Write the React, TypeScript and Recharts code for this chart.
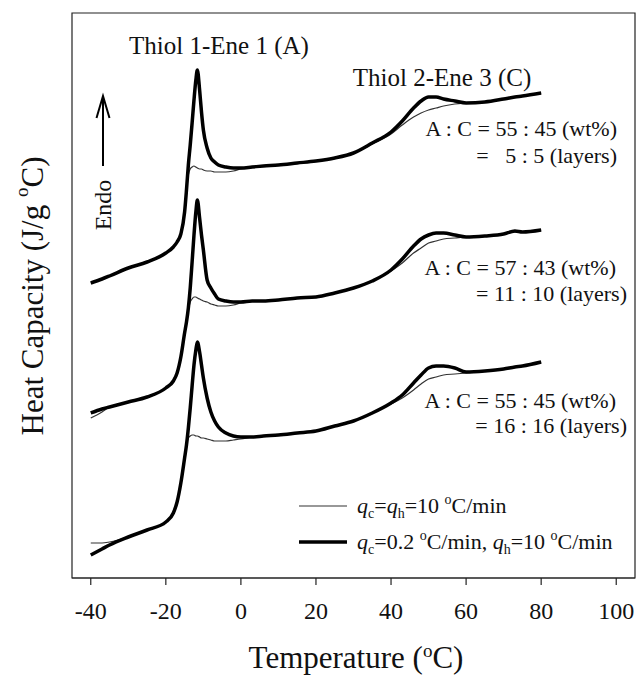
import React from "react";
import { LineChart, Line, XAxis, YAxis, ReferenceArea, Legend } from "recharts";

// temperature grid (°C) shared by all traces
const temps = [
  -40, -37, -35, -30, -25, -20, -18, -17, -16, -15, -14.5, -14, -13.5, -13, -12.5,
  -12, -11.6, -11, -10.5, -10, -9, -8, -7, -6, -4, -2, 0, 3, 6, 10, 15, 20, 25,
  30, 35, 40, 43, 46, 48, 50, 52, 54, 57, 60, 65, 70, 73, 75, 80,
];

// heat capacity traces (arbitrary offset units), slow cooling = thick, 10 °C/min = thin
const layers5Slow = [
  2.95, 2.99, 3.02, 3.1, 3.16, 3.25, 3.31, 3.36, 3.44, 3.66, 3.88, 4.13, 4.33, 4.55, 4.78,
  4.98, 5.08, 4.88, 4.66, 4.48, 4.3, 4.2, 4.16, 4.13, 4.11, 4.1, 4.1, 4.11, 4.12, 4.13, 4.15, 4.17, 4.2,
  4.25, 4.35, 4.46, 4.57, 4.7, 4.77, 4.81, 4.81, 4.79, 4.77, 4.75, 4.76, 4.79, 4.81, 4.82, 4.85,
];
const layers5Fast = [
  2.95, 2.99, 3.02, 3.1, 3.16, 3.25, 3.31, 3.36, 3.44, 3.66, 3.86, 4.03, 4.09, 4.11, 4.12,
  4.11, 4.1, 4.09, 4.09, 4.08, 4.07, 4.07, 4.06, 4.06, 4.06, 4.07, 4.09, 4.11, 4.12, 4.13, 4.15, 4.17, 4.2,
  4.25, 4.34, 4.44, 4.53, 4.61, 4.65, 4.68, 4.7, 4.72, 4.74, 4.75, 4.76, 4.79, 4.81, 4.82, 4.85,
];
const layers11Slow = [
  1.65, 1.69, 1.71, 1.76, 1.81, 1.9, 1.97, 2.05, 2.21, 2.45, 2.56, 2.7, 2.9, 3.16, 3.43,
  3.66, 3.78, 3.6, 3.43, 3.28, 2.98, 2.9, 2.84, 2.79, 2.77, 2.76, 2.76, 2.77, 2.77, 2.78, 2.8, 2.81, 2.85,
  2.9, 2.97, 3.08, 3.19, 3.32, 3.39, 3.43, 3.45, 3.45, 3.43, 3.41, 3.42, 3.44, 3.47, 3.46, 3.48,
];
const layers11Fast = [
  1.6, 1.66, 1.71, 1.76, 1.81, 1.9, 1.97, 2.05, 2.21, 2.45, 2.56, 2.68, 2.76, 2.79, 2.81,
  2.81, 2.8, 2.79, 2.78, 2.77, 2.76, 2.74, 2.73, 2.72, 2.72, 2.73, 2.75, 2.77, 2.77, 2.78, 2.8, 2.81, 2.85,
  2.9, 2.97, 3.07, 3.15, 3.25, 3.3, 3.35, 3.37, 3.39, 3.4, 3.41, 3.42, 3.44, 3.46, 3.46, 3.48,
];
const layers16Slow = [
  0.23, 0.29, 0.33, 0.41, 0.48, 0.56, 0.65, 0.76, 0.95, 1.2, 1.33, 1.5, 1.7, 1.92, 2.13,
  2.28, 2.36, 2.26, 2.13, 2.0, 1.8, 1.66, 1.57, 1.51, 1.45, 1.42, 1.41, 1.41, 1.42, 1.43, 1.45, 1.47, 1.52,
  1.57, 1.65, 1.75, 1.83, 1.95, 2.03, 2.1, 2.12, 2.12, 2.1, 2.06, 2.07, 2.09, 2.11, 2.12, 2.16,
];
const layers16Fast = [
  0.35, 0.35, 0.36, 0.41, 0.48, 0.56, 0.65, 0.76, 0.95, 1.2, 1.33, 1.4, 1.42, 1.43, 1.43,
  1.42, 1.42, 1.41, 1.4, 1.4, 1.39, 1.38, 1.37, 1.37, 1.37, 1.38, 1.39, 1.41, 1.42, 1.43, 1.45, 1.47, 1.52,
  1.57, 1.65, 1.74, 1.8, 1.88, 1.94, 1.99, 2.01, 2.03, 2.04, 2.05, 2.07, 2.09, 2.11, 2.12, 2.16,
];

const xTicks = [-40, -20, 0, 20, 40, 60, 80, 100];

const data = temps.map((t, i) => ({
  t,
  s5: layers5Slow[i],
  f5: layers5Fast[i],
  s11: layers11Slow[i],
  f11: layers11Fast[i],
  s16: layers16Slow[i],
  f16: layers16Fast[i],
}));

const FONT = '"Liberation Serif", "Times New Roman", serif';
const INK = "#111";

function LegendBox() {
  return (
    <svg width={340} height={72} style={{ fontFamily: FONT }}>
      <line x1={0} x2={48} y1={17} y2={17} stroke="#333" strokeWidth={1.2} />
      <line x1={0} x2={48} y1={53} y2={53} stroke="#000" strokeWidth={3.5} />
      <text x={58} y={24} fontSize={22} fill={INK}>
        <tspan fontStyle="italic">q</tspan>
        <tspan fontSize={14} dy={5}>c</tspan>
        <tspan dy={-5}>=</tspan>
        <tspan fontStyle="italic">q</tspan>
        <tspan fontSize={14} dy={5}>h</tspan>
        <tspan dy={-5}>=10 </tspan>
        <tspan fontSize={14} dy={-9}>o</tspan>
        <tspan dy={9}>C/min</tspan>
      </text>
      <text x={58} y={60} fontSize={22} fill={INK}>
        <tspan fontStyle="italic">q</tspan>
        <tspan fontSize={14} dy={5}>c</tspan>
        <tspan dy={-5}>=0.2 </tspan>
        <tspan fontSize={14} dy={-9}>o</tspan>
        <tspan dy={9}>C/min, </tspan>
        <tspan fontStyle="italic">q</tspan>
        <tspan fontSize={14} dy={5}>h</tspan>
        <tspan dy={-5}>=10 </tspan>
        <tspan fontSize={14} dy={-9}>o</tspan>
        <tspan dy={9}>C/min</tspan>
      </text>
    </svg>
  );
}

export default function App() {
  return (
    <div style={{ position: "absolute", left: 0, top: 0, width: 637, height: 677, background: "#fff" }}>
      <LineChart
        width={637}
        height={677}
        data={data}
        margin={{ top: 13, right: 2, bottom: 39, left: 72 }}
      >
        <XAxis
          dataKey="t"
          type="number"
          domain={[-45, 105]}
          ticks={xTicks}
          height={60}
          axisLine={{ stroke: "#222", strokeWidth: 1.2 }}
          tickLine={{ stroke: "#222", strokeWidth: 1.2 }}
          tickSize={7}
          tickMargin={17}
          tick={{ fill: INK, fontSize: 24, fontFamily: FONT }}
        />
        <YAxis hide type="number" domain={[0, 5.65]} />
        <ReferenceArea
          x1={-45}
          x2={105}
          y1={0}
          y2={5.65}
          fill="none"
          stroke="#222"
          strokeWidth={1.2}
        />
        <Line dataKey="f5" type="monotone" stroke="#333" strokeWidth={1.2} dot={false} isAnimationActive={false} />
        <Line dataKey="f11" type="monotone" stroke="#333" strokeWidth={1.2} dot={false} isAnimationActive={false} />
        <Line dataKey="f16" type="monotone" stroke="#333" strokeWidth={1.2} dot={false} isAnimationActive={false} />
        <Line dataKey="s5" type="monotone" stroke="#000" strokeWidth={3.5} dot={false} isAnimationActive={false} />
        <Line dataKey="s11" type="monotone" stroke="#000" strokeWidth={3.5} dot={false} isAnimationActive={false} />
        <Line dataKey="s16" type="monotone" stroke="#000" strokeWidth={3.5} dot={false} isAnimationActive={false} />
        <Legend
          layout="horizontal"
          verticalAlign="middle"
          align="center"
          content={() => <LegendBox />}
          wrapperStyle={{ left: 299, top: 489, width: 340, height: 72 }}
        />
      </LineChart>

      <svg
        width={637}
        height={677}
        style={{ position: "absolute", left: 0, top: 0, pointerEvents: "none", fontFamily: FONT }}
      >
        <g fill={INK}>
          <text x={219} y={45} fontSize={25} textAnchor="middle" dominantBaseline="central">
            Thiol 1-Ene 1 (A)
          </text>
          <text x={442} y={77} fontSize={25} textAnchor="middle" dominantBaseline="central">
            Thiol 2-Ene 3 (C)
          </text>
          <text x={617} y={128} fontSize={22} textAnchor="end" dominantBaseline="central" style={{ whiteSpace: "pre" }}>
            A : C = 55 : 45 (wt%)
          </text>
          <text x={617} y={155} fontSize={22} textAnchor="end" dominantBaseline="central" style={{ whiteSpace: "pre" }}>
            {"=   5 : 5 (layers)"}
          </text>
          <text x={616} y={267} fontSize={22} textAnchor="end" dominantBaseline="central" style={{ whiteSpace: "pre" }}>
            A : C = 57 : 43 (wt%)
          </text>
          <text x={627} y={293} fontSize={22} textAnchor="end" dominantBaseline="central" style={{ whiteSpace: "pre" }}>
            = 11 : 10 (layers)
          </text>
          <text x={616} y={400} fontSize={22} textAnchor="end" dominantBaseline="central" style={{ whiteSpace: "pre" }}>
            A : C = 55 : 45 (wt%)
          </text>
          <text x={627} y={425} fontSize={22} textAnchor="end" dominantBaseline="central" style={{ whiteSpace: "pre" }}>
            = 16 : 16 (layers)
          </text>
          <text
            x={103}
            y={205}
            fontSize={24}
            textAnchor="middle"
            dominantBaseline="central"
            transform="rotate(-90 103 205)"
          >
            Endo
          </text>
          <text
            x={32}
            y={296}
            fontSize={31}
            textAnchor="middle"
            dominantBaseline="central"
            transform="rotate(-90 32 296)"
          >
            Heat Capacity (J/g <tspan fontSize={19} dy={-11}>o</tspan>
            <tspan dy={11}>C)</tspan>
          </text>
          <text x={356} y={668} fontSize={31} textAnchor="middle">
            Temperature (<tspan fontSize={19} dy={-11}>o</tspan>
            <tspan dy={11}>C)</tspan>
          </text>
        </g>
        <g stroke="#000" strokeWidth={2} fill="none">
          <line x1={103} x2={103} y1={166} y2={97} />
          <polyline points="96.5,118 103,96 109.5,118" />
        </g>
      </svg>
    </div>
  );
}
